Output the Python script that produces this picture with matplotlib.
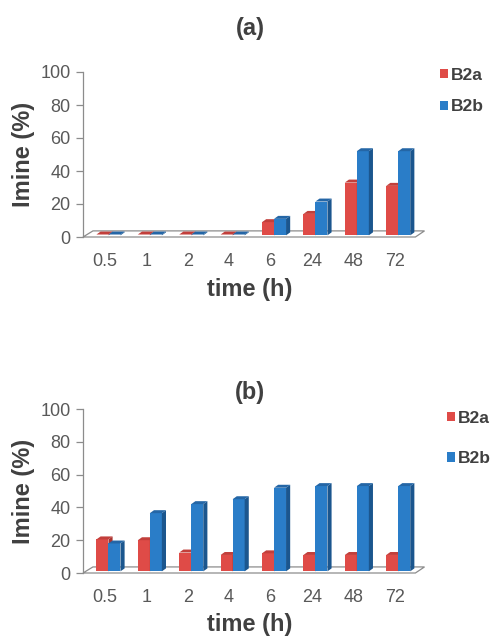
import matplotlib
matplotlib.use("Agg")
import matplotlib.pyplot as plt
from matplotlib.patches import Polygon, Patch
import numpy as np

plt.rcParams['font.family'] = ['Liberation Sans', 'DejaVu Sans']

categories = ["0.5", "1", "2", "4", "6", "24", "48", "72"]
a_B2a = [0.5, 0.5, 0.5, 0.5, 8, 13, 32, 30]
a_B2b = [0.5, 0.5, 0.5, 0.5, 10, 20.5, 51, 51]
b_B2a = [19.5, 19, 11.5, 10, 11, 10, 10, 10]
b_B2b = [17, 35.5, 41, 44, 51, 52, 52, 52]
series_names = ["B2a", "B2b"]

RED = "#DF4B47"
RED_SIDE = "#A8332F"
RED_TOP = "#C23F3B"
BLUE = "#2A7DC8"
BLUE_SIDE = "#1B568E"
BLUE_TOP = "#2466A6"
GRAY = "#8C8C8C"
TXT = "#595959"
LBL = "#404040"

fig = plt.figure(figsize=(4.93, 6.36), dpi=100)

W = 0.29
DX = 0.1
DY = 1.8
BASE = 1.0
FDX = 0.22
FDY = 3.7
XL, XR = -0.53, 7.5


def bars3d(ax, xs, vals, color, side, top):
    ax.bar(xs, vals, width=W, bottom=BASE, color=color, zorder=3, linewidth=0)
    for x, v in zip(xs, vals):
        xl, xr = x - W / 2, x + W / 2
        t = BASE + v
        ax.add_patch(Polygon([(xr, BASE), (xr + DX, BASE + DY), (xr + DX, t + DY), (xr, t)],
                             closed=True, facecolor=side, edgecolor='none', zorder=3))
        ax.add_patch(Polygon([(xl, t), (xl + DX, t + DY), (xr + DX, t + DY), (xr, t)],
                             closed=True, facecolor=top, edgecolor='none', zorder=3))


def panel(rect, title, s1, s2, title_y, leg_x, leg_y, leg_sp, xpad):
    ax = fig.add_axes(rect)
    n = len(categories)
    x = np.arange(n)
    ax.set_xlim(XL, XR)
    ax.set_ylim(0, 100)
    floor = Polygon([(XL, 0), (XR, 0), (XR + FDX, FDY), (XL + 0.24, FDY)],
                    closed=True, facecolor='white', edgecolor=GRAY, linewidth=0.9,
                    zorder=2, clip_on=False)
    ax.add_patch(floor)
    bars3d(ax, x - 0.06, s1, RED, RED_SIDE, RED_TOP)
    bars3d(ax, x + 0.23, s2, BLUE, BLUE_SIDE, BLUE_TOP)
    for sp in ['top', 'right', 'bottom']:
        ax.spines[sp].set_visible(False)
    ax.spines['left'].set_color(GRAY)
    ax.spines['left'].set_linewidth(0.9)
    ax.set_yticks(np.arange(0, 101, 20))
    ax.tick_params(axis='y', colors=GRAY, labelcolor=TXT, labelsize=13, length=5, width=0.9, pad=4)
    ax.set_xticks(x)
    ax.set_xticklabels(categories)
    ax.tick_params(axis='x', length=0, labelcolor=TXT, labelsize=13, pad=11.5)
    ax.set_ylabel("Imine (%)", fontsize=17, fontweight='bold', color=LBL, labelpad=3.5)
    ax.set_xlabel("time (h)", fontsize=17, fontweight='bold', color=LBL, labelpad=xpad)
    fig.text(250 / 493, title_y, title, fontsize=17, fontweight='bold', color=LBL,
             ha='center', va='center')
    handles = [Patch(facecolor=RED, edgecolor='none'), Patch(facecolor=BLUE, edgecolor='none')]
    fig.legend(handles, series_names, loc='upper left', bbox_to_anchor=(leg_x, leg_y),
               frameon=False, prop={'size': 12.5, 'weight': 'bold'}, handlelength=0.45,
               handleheight=0.45, handletextpad=0.15, labelspacing=leg_sp, labelcolor=LBL,
               borderpad=0, borderaxespad=0)
    return ax

panel([83 / 493, 1 - 237 / 636, 332.4 / 493, 165 / 636], "(a)", a_B2a, a_B2b, 1 - 28 / 636,
      440 / 493, 1 - 68 / 636, 0.95, 6)
panel([83 / 493, 1 - 573 / 636, 332.4 / 493, 164 / 636], "(b)", b_B2a, b_B2b, 1 - 393 / 636,
      447 / 493, 1 - 411 / 636, 1.45, 5)

fig.savefig("out.png", dpi=100)
